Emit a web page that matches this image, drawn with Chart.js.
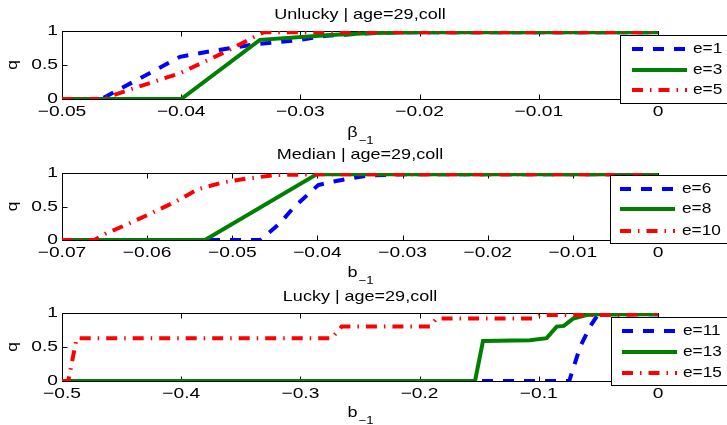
<!DOCTYPE html>
<html>
<head>
<meta charset="UTF-8">
<title>q vs b_-1</title>
<script src="https://cdn.jsdelivr.net/npm/chart.js"></script>
<style>
  body { margin: 0; background: #fff; }
  #wrap { position: relative; width: 727px; height: 425px; overflow: hidden; }
  canvas { position: absolute; left: 0; }
</style>
</head>
<body>
<div id="wrap">
  <canvas id="c1" width="727" height="150" style="top:0px"></canvas>
  <canvas id="c2" width="727" height="150" style="top:140px"></canvas>
  <canvas id="c3" width="727" height="145" style="top:280px"></canvas>
</div>
<script>
// ---- data ----
const yTicks = [0, 0.5, 1];

// Unlucky
const ticks1 = [-0.05, -0.04, -0.03, -0.02, -0.01, 0];
const e1x = [-0.05, -0.0467, -0.0401, -0.0376, -0.034, -0.030, -0.0278, -0.025, -0.022, 0];
const e1y = [0, 0, 0.62, 0.70, 0.80, 0.87, 0.93, 0.96, 0.98, 0.98];
const e3x = [-0.05, -0.04, -0.0334, -0.0275, -0.024, -0.02, 0];
const e3y = [0, 0, 0.87, 0.94, 0.97, 0.98, 0.98];
const e5x = [-0.05, -0.0466, -0.0448, -0.0401, -0.0362, -0.0336, -0.0331, 0];
const e5y = [0, 0, 0.11, 0.38, 0.70, 0.94, 0.98, 0.98];

// Median
const ticks2 = [-0.07, -0.06, -0.05, -0.04, -0.03, -0.02, -0.01, 0];
const e6x = [-0.07, -0.0467, -0.0444, -0.0429, -0.0412, -0.0399, -0.0382, -0.0365, -0.0342, -0.030, 0];
const e6y = [0, 0, 0.25, 0.47, 0.67, 0.82, 0.87, 0.91, 0.96, 0.98, 0.98];
const e8x = [-0.07, -0.0532, -0.0401, 0];
const e8y = [0, 0, 0.98, 0.98];
const e10x = [-0.07, -0.0662, -0.0648, -0.0624, -0.0595, -0.0567, -0.054, -0.0511, -0.0481, -0.0448, -0.040, 0];
const e10y = [0, 0, 0.10, 0.23, 0.40, 0.57, 0.76, 0.86, 0.92, 0.97, 0.98, 0.98];

// Lucky
const ticks3 = [-0.5, -0.4, -0.3, -0.2, -0.1, 0];
const e11x = [-0.5, -0.0745, -0.0654, -0.057, -0.0514, -0.045, 0];
const e11y = [0, 0, 0.50, 0.80, 0.95, 0.98, 0.98];
const e13x = [-0.5, -0.1535, -0.1468, -0.1074, -0.0934, -0.085, -0.079, -0.071, -0.06, -0.05, 0];
const e13y = [0, 0, 0.59, 0.60, 0.63, 0.80, 0.81, 0.92, 0.97, 0.98, 0.98];
const e15x = [-0.5, -0.4947, -0.4877, -0.2738, -0.2654, -0.1913, -0.1857, -0.1049, -0.099, -0.03, 0];
const e15y = [0, 0, 0.63, 0.63, 0.80, 0.80, 0.92, 0.92, 0.97, 0.97, 1.0];

const FONT = '"Liberation Sans", Arial, Helvetica, sans-serif';

function pts(xs, ys) {
  return xs.map((x, i) => ({ x: x, y: ys[i] }));
}

// text squeezed/stretched sideways like the matlab export
function txt(ctx, s, x, y, size, align, sx, base) {
  ctx.save();
  ctx.font = size + 'px ' + FONT;
  ctx.textBaseline = base || 'middle';
  ctx.textAlign = 'left';
  const w = ctx.measureText(s).width * sx;
  const x0 = align === 'center' ? x - w / 2 : align === 'right' ? x - w : x;
  ctx.translate(x0, y);
  ctx.scale(sx, 1);
  ctx.fillStyle = '#000';
  ctx.fillText(s, 0, 0);
  ctx.restore();
  return w;
}

function fmt(v, dec) {
  if (Math.abs(v) < 1e-12) return '0';
  return (v < 0 ? '\u2212' : '') + Math.abs(v).toFixed(dec);
}

const matlabAxes = {
  id: 'matlabAxes',
  beforeDatasetsDraw(chart, args, o) {
    const { ctx, chartArea: a, scales: { x, y } } = chart;
    ctx.save();
    ctx.strokeStyle = '#000';
    ctx.lineWidth = 1;
    const L = a.left + 0.5, R = a.right + 0.5, T = a.top + 0.5, B = a.bottom + 0.5;
    ctx.strokeRect(L, T, R - L, B - T);
    ctx.beginPath();
    o.xTicks.forEach(v => {
      const px = Math.round(x.getPixelForValue(v)) + 0.5;
      ctx.moveTo(px, B); ctx.lineTo(px, B - 5);
      ctx.moveTo(px, T); ctx.lineTo(px, T + 5);
    });
    yTicks.forEach(v => {
      const py = Math.round(y.getPixelForValue(v)) + 0.5;
      ctx.moveTo(L, py); ctx.lineTo(L + 5, py);
      ctx.moveTo(R, py); ctx.lineTo(R - 5, py);
    });
    ctx.stroke();
    ctx.restore();
  },
  afterDraw(chart, args, o) {
    const { ctx, chartArea: a, scales: { x, y } } = chart;
    // tick labels
    o.xTicks.forEach(v => {
      txt(ctx, fmt(v, o.dec), x.getPixelForValue(v), a.bottom + 12.5, 15, 'center', 1.28);
    });
    yTicks.forEach(v => {
      txt(ctx, String(v), a.left - 4, y.getPixelForValue(v), 15, 'right', 1.28);
    });
    // title
    txt(ctx, o.title, (a.left + a.right) / 2, o.titleY, 15, 'center', 1.2, 'alphabetic');
    // y label
    ctx.save();
    ctx.translate(13, (a.top + a.bottom) / 2);
    ctx.rotate(-Math.PI / 2);
    txt(ctx, 'q', 0, 0, 15, 'center', 1.15);
    ctx.restore();
    // x label with subscript
    ctx.save();
    ctx.font = '15px ' + FONT;
    const w1 = ctx.measureText(o.xlab).width * 1.2;
    ctx.font = '11px ' + FONT;
    const w2 = ctx.measureText('\u22121').width * 1.2;
    ctx.restore();
    const xs0 = (a.left + a.right) / 2 - (w1 + w2) / 2;
    txt(ctx, o.xlab, xs0, 137, 15, 'left', 1.2, 'alphabetic');
    txt(ctx, '\u22121', xs0 + w1 + 1, 144, 11, 'left', 1.2, 'alphabetic');
    // legend
    const lg = o.legend;
    ctx.save();
    ctx.fillStyle = '#fff';
    ctx.fillRect(lg.x, lg.y, lg.w, lg.h);
    ctx.strokeStyle = '#000';
    ctx.lineWidth = 1;
    ctx.strokeRect(lg.x + 0.5, lg.y + 0.5, lg.w, lg.h);
    chart.data.datasets.forEach((ds, i) => {
      const yy = lg.rows[i];
      ctx.save();
      ctx.strokeStyle = ds.borderColor;
      ctx.lineWidth = ds.borderWidth;
      ctx.setLineDash(ds.borderDash || []);
      ctx.beginPath();
      ctx.moveTo(lg.l0, yy);
      ctx.lineTo(lg.l1, yy);
      ctx.stroke();
      ctx.restore();
      txt(ctx, ds.label, lg.tx, yy, 15, 'left', 1.15);
    });
    ctx.restore();
  }
};

function series(label, xs, ys, color, dash, order) {
  return {
    label: label,
    data: pts(xs, ys),
    borderColor: color,
    borderWidth: 4,
    borderDash: dash,
    borderCapStyle: 'butt',
    pointRadius: 0,
    fill: false,
    tension: 0,
    order: order
  };
}

const BLUE = 'rgb(0,0,255)', GREEN = 'rgb(0,128,0)', RED = 'rgb(255,0,0)';
const DASH = [11, 10], DASHDOT = [11, 7, 1.5, 7];

function makePlot(id, cfg) {
  new Chart(document.getElementById(id), {
    type: 'line',
    data: {
      datasets: [
        series(cfg.names[0], cfg.s[0], cfg.s[1], BLUE, DASH, 2),
        series(cfg.names[1], cfg.s[2], cfg.s[3], GREEN, [], 1),
        series(cfg.names[2], cfg.s[4], cfg.s[5], RED, DASHDOT, 0)
      ]
    },
    options: {
      responsive: false,
      animation: false,
      layout: { padding: { left: 62, right: 69, top: cfg.top, bottom: cfg.bottom } },
      scales: {
        x: { type: 'linear', min: cfg.xTicks[0], max: 0, display: false },
        y: { min: 0, max: 1, display: false }
      },
      plugins: {
        legend: { display: false },
        tooltip: { enabled: false },
        matlabAxes: {
          xTicks: cfg.xTicks, dec: cfg.dec, title: cfg.title, titleY: cfg.titleY,
          xlab: cfg.xlab, legend: cfg.legend
        }
      }
    },
    plugins: [matlabAxes]
  });
}

makePlot('c1', {
  names: ['e=1', 'e=3', 'e=5'],
  s: [e1x, e1y, e3x, e3y, e5x, e5y],
  xTicks: ticks1, dec: 2, top: 31, bottom: 51,
  title: 'Unlucky | age=29,coll', titleY: 19, xlab: '\u03b2',
  legend: { x: 620, y: 35, w: 110, h: 68, rows: [49, 70, 90], l0: 632, l1: 687, tx: 693 }
});
makePlot('c2', {
  names: ['e=6', 'e=8', 'e=10'],
  s: [e6x, e6y, e8x, e8y, e10x, e10y],
  xTicks: ticks2, dec: 2, top: 33, bottom: 50,
  title: 'Median | age=29,coll', titleY: 19, xlab: 'b',
  legend: { x: 610, y: 35, w: 120, h: 68, rows: [49, 69, 91], l0: 620, l1: 675, tx: 682 }
});
makePlot('c3', {
  names: ['e=11', 'e=13', 'e=15'],
  s: [e11x, e11y, e13x, e13y, e15x, e15y],
  xTicks: ticks3, dec: 1, top: 33, bottom: 44,
  title: 'Lucky | age=29,coll', titleY: 21, xlab: 'b',
  legend: { x: 611, y: 37, w: 120, h: 68, rows: [51, 72, 93], l0: 622, l1: 677, tx: 683 }
});
</script>
</body>
</html>
